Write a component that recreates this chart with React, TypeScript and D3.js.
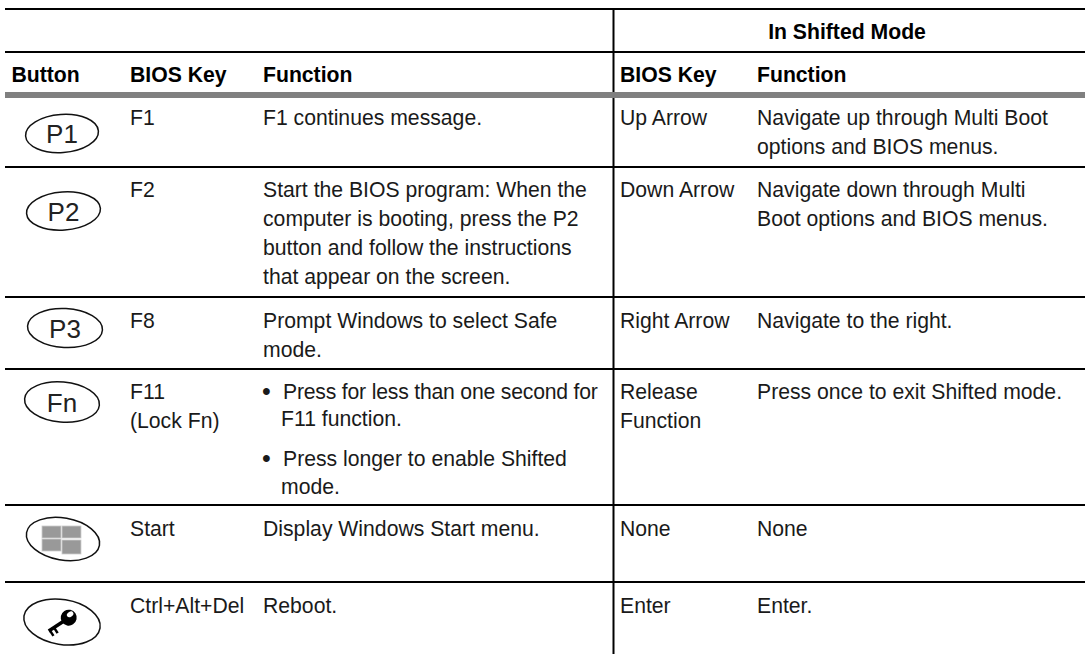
import { useEffect, useRef } from 'react';
import * as d3 from 'd3';

const W = 1085;
const H = 654;

// table contents
const headerTop = 'In Shifted Mode';
const headers = ['Button', 'BIOS Key', 'Function', 'BIOS Key', 'Function'];
const buttons = ['P1', 'P2', 'P3', 'Fn', 'win', 'key'];
const biosKeys = [['F1'], ['F2'], ['F8'], ['F11', '(Lock Fn)'], ['Start'], ['Ctrl+Alt+Del']];
const functions = [
  ['F1 continues message.'],
  ['Start the BIOS program: When the', 'computer is booting, press the P2', 'button and follow the instructions', 'that appear on the screen.'],
  ['Prompt Windows to select Safe', 'mode.'],
  [],
  ['Display Windows Start menu.'],
  ['Reboot.'],
];
const bullets = [
  ['Press for less than one second for', 'F11 function.'],
  ['Press longer to enable Shifted', 'mode.'],
];
const shiftedKeys = [['Up Arrow'], ['Down Arrow'], ['Right Arrow'], ['Release', 'Function'], ['None'], ['Enter']];
const shiftedFunctions = [
  ['Navigate up through Multi Boot', 'options and BIOS menus.'],
  ['Navigate down through Multi', 'Boot options and BIOS menus.'],
  ['Navigate to the right.'],
  ['Press once to exit Shifted mode.'],
  ['None'],
  ['Enter.'],
];

// layout
const colX = [11.5, 130, 263, 620, 757];
const rowLines = [167, 297, 369, 505, 582];
const rowFirstBaseline = [124.5, 197, 327.5, 399, 535.5, 612.5];
const bulletBaseline = [398.5, 466];
const buttonCenter: [number, number, number, number, number][] = [
  [62, 133.5, 36.5, 19, -4],
  [63.5, 211, 37, 19, -4],
  [65, 328, 37.5, 19.5, 3],
  [62, 402, 37.5, 20, 5],
  [63, 539, 37, 21, 10],
  [62, 622, 38.5, 22.5, 9],
];
const font = '"Liberation Sans", Arial, sans-serif';

export default function App() {
  const svgRef = useRef<SVGSVGElement>(null);

  useEffect(() => {
    const svg = d3.select(svgRef.current);
    svg.selectAll('*').remove();
    const lineH = d3.scaleLinear().domain([0, 1]).range([0, 29]);
    const table = svg.append('g').attr('font-family', font).attr('font-size', 21.2).attr('fill', '#1a1a1a');

    // rules
    [9, 52, ...rowLines].forEach((y) => {
      table.append('line').attr('x1', 5).attr('x2', W).attr('y1', y).attr('y2', y).attr('stroke', '#000').attr('stroke-width', 2);
    });
    table.append('line').attr('x1', 613.5).attr('x2', 613.5).attr('y1', 9).attr('y2', H).attr('stroke', '#000').attr('stroke-width', 2);
    // gray band runs over the divider
    table.append('rect').attr('x', 5).attr('y', 92).attr('width', W - 5).attr('height', 6).attr('fill', '#808080');

    // headers
    table.append('text').attr('x', 847).attr('y', 39).attr('text-anchor', 'middle').attr('font-weight', 'bold').attr('fill', '#000').text(headerTop);
    headers.forEach((h, i) => {
      table.append('text').attr('x', colX[i]).attr('y', 82).attr('font-weight', 'bold').attr('fill', '#000').text(h);
    });

    // body columns
    const drawCol = (rows: string[][], x: number) => {
      rows.forEach((lines, r) => {
        lines.forEach((t, j) => {
          table.append('text').attr('x', x).attr('y', rowFirstBaseline[r] + lineH(j)).text(t);
        });
      });
    };
    drawCol(biosKeys, colX[1]);
    drawCol(functions, colX[2]);
    drawCol(shiftedKeys, colX[3]);
    drawCol(shiftedFunctions, colX[4]);

    // bulleted cell in the Fn row, first line is set tighter in the original
    bullets.forEach((lines, b) => {
      table.append('text').attr('x', 262).attr('y', bulletBaseline[b] + 1).attr('font-size', 25).text('\u2022');
      lines.forEach((t, j) => {
        table.append('text')
          .attr('x', j === 0 ? 283 : 281)
          .attr('y', bulletBaseline[b] + lineH(j) - (j ? 1.5 : 0))
          .attr('letter-spacing', b === 0 && j === 0 ? -0.2 : 0)
          .text(t);
      });
    });

    // button glyphs
    buttons.forEach((b, i) => {
      const [cx, cy, rx, ry, tilt] = buttonCenter[i];
      const g = table.append('g').attr('transform', `translate(${cx},${cy})`);
      g.append('ellipse')
        .attr('rx', rx).attr('ry', ry)
        .attr('transform', `rotate(${tilt})`)
        .attr('fill', 'none').attr('stroke', '#111').attr('stroke-width', 1.5);
      if (b === 'win') {
        const panes: [number, number, number, number][] = [[-21, -13, 19, 12], [-1, -13, 19, 12], [-21, 0, 19, 12], [-1, 1, 19, 14]];
        panes.forEach(([x, y, w, h]) => {
          g.append('rect').attr('x', x).attr('y', y).attr('width', w).attr('height', h).attr('fill', '#999').attr('stroke', '#ccc').attr('stroke-width', 0.8);
        });
      } else if (b === 'key') {
        const k = g.append('g').attr('transform', 'rotate(-33)');
        k.append('circle').attr('cx', 8).attr('r', 8).attr('fill', '#000');
        k.append('ellipse').attr('cx', 11).attr('cy', -2).attr('rx', 3.5).attr('ry', 2.5).attr('fill', '#fff');
        k.append('rect').attr('x', -16).attr('y', -1.5).attr('width', 20).attr('height', 3.5).attr('fill', '#000');
        k.append('rect').attr('x', -16).attr('y', 1).attr('width', 2.5).attr('height', 6).attr('fill', '#000');
        k.append('rect').attr('x', -11).attr('y', 1).attr('width', 2.5).attr('height', 6).attr('fill', '#000');
      } else {
        g.append('text').attr('text-anchor', 'middle').attr('y', 9.5).attr('font-size', 26).attr('fill', '#222').text(b);
      }
    });
  }, []);

  return (
    <svg ref={svgRef} width={W} height={H} style={{ position: 'absolute', left: 0, top: 0, background: '#fff' }} />
  );
}
